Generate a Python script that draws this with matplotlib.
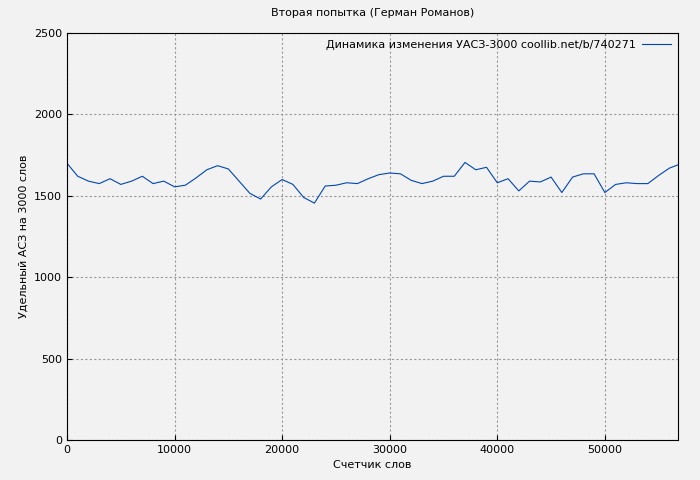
import matplotlib
matplotlib.use('Agg')
import matplotlib.pyplot as plt

words = [i * 1000 for i in range(57)] + [56800]
uasz = [1700, 1620, 1590, 1575, 1605, 1570, 1590, 1620, 1575, 1590,
        1555, 1565, 1610, 1660, 1685, 1665, 1590, 1515, 1480, 1555,
        1600, 1570, 1490, 1455, 1560, 1565, 1580, 1575, 1605, 1630,
        1640, 1635, 1595, 1575, 1590, 1620, 1620, 1705, 1660, 1675,
        1580, 1605, 1530, 1590, 1585, 1615, 1520, 1615, 1635, 1635,
        1520, 1570, 1580, 1575, 1575, 1625, 1670, 1690]

fig = plt.figure(figsize=(7, 4.8), dpi=100, facecolor='#f2f2f2')
ax = fig.add_axes([67 / 700, 40 / 480, 611 / 700, 407 / 480])
ax.set_facecolor('#f2f2f2')
ax.plot(words, uasz, color='#0047b3', linewidth=0.8,
        label='Динамика изменения УАСЗ-3000 coollib.net/b/740271')
ax.set_xlim(0, 56800)
ax.set_ylim(0, 2500)
ax.set_xticks(range(0, 56000, 10000))
ax.set_yticks(range(0, 2501, 500))
ax.tick_params(labelsize=8, direction='in')
ax.grid(True, color='#999999', linestyle=(0, (2, 2)), linewidth=0.8)
ax.set_xlabel('Счетчик слов', fontsize=8)
ax.set_ylabel('Удельный АСЗ на 3000 слов', fontsize=8)
ax.set_title('Вторая попытка (Герман Романов)', fontsize=8, pad=12)
leg = ax.legend(loc='upper right', fontsize=8, frameon=False,
                markerfirst=False, handlelength=2.6, handletextpad=0.6,
                borderaxespad=0.2)
fig.savefig('out.png', dpi=100, facecolor=fig.get_facecolor())
